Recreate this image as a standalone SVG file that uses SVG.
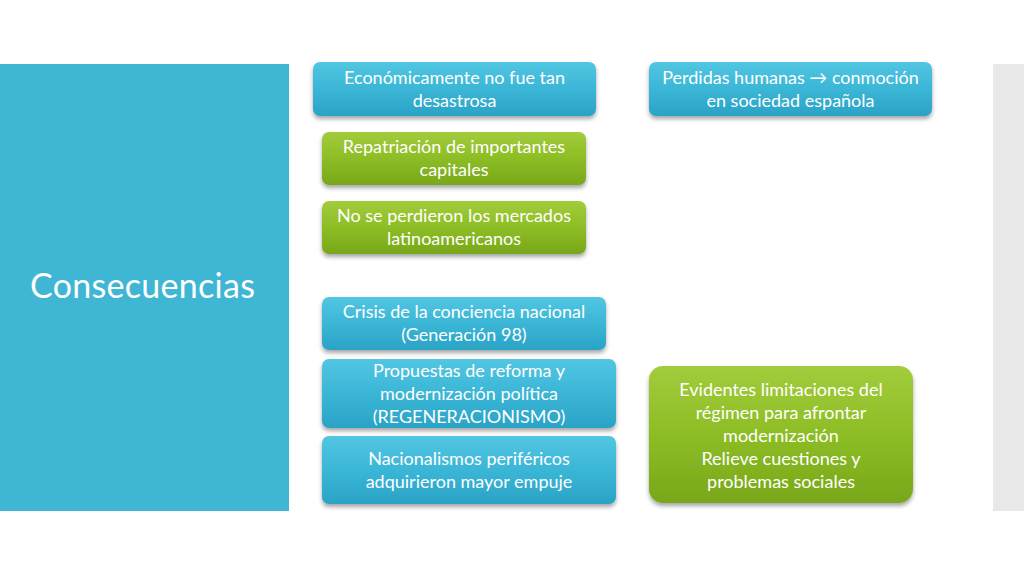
<svg xmlns="http://www.w3.org/2000/svg" width="1024" height="576" viewBox="0 0 1024 576">
<defs>
<linearGradient id="gc" x1="0" y1="0" x2="0" y2="1">
<stop offset="0" stop-color="#52c6e2"/>
<stop offset="0.5" stop-color="#3bb6d6"/>
<stop offset="1" stop-color="#2aa3c6"/>
</linearGradient>
<linearGradient id="gg" x1="0" y1="0" x2="0" y2="1">
<stop offset="0" stop-color="#a2cc3c"/>
<stop offset="0.5" stop-color="#8dbd25"/>
<stop offset="1" stop-color="#78a71a"/>
</linearGradient>
<filter id="sh" x="-10%" y="-10%" width="120%" height="140%">
<feDropShadow dx="0" dy="3" stdDeviation="2" flood-color="#000" flood-opacity="0.35"/>
</filter>
</defs>
<style>
.c{fill:url(#gc);filter:url(#sh)}
.g{fill:url(#gg);filter:url(#sh)}
.t{font-family:Lato,"Open Sans","Liberation Sans",sans-serif;font-size:18px;fill:#ffffff;text-anchor:middle}
</style>
<rect width="1024" height="576" fill="#ffffff"/>
<rect x="0" y="64" width="289" height="447" fill="#3fb6d3"/>
<rect x="993" y="64" width="31" height="447" fill="#e8e8e8"/>
<text x="30" y="298" font-family="Lato,'Open Sans','Liberation Sans',sans-serif" font-size="34" fill="#ffffff" textLength="225">Consecuencias</text>
<g id="connectors"/>
<g id="n1"><rect class="c" x="313" y="62" width="283" height="54" rx="7"/>
<text class="t" x="454.5" y="84">Económicamente no fue tan</text>
<text class="t" x="454.5" y="107">desastrosa</text></g>
<g id="n2"><rect class="g" x="322" y="132" width="264" height="53" rx="7"/>
<text class="t" x="454" y="153">Repatriación de importantes</text>
<text class="t" x="454" y="176">capitales</text></g>
<g id="n3"><rect class="g" x="322" y="201" width="264" height="53" rx="7"/>
<text class="t" x="454" y="222">No se perdieron los mercados</text>
<text class="t" x="454" y="245">latinoamericanos</text></g>
<g id="n4"><rect class="c" x="322" y="297" width="284" height="53" rx="7"/>
<text class="t" x="464" y="318">Crisis de la conciencia nacional</text>
<text class="t" x="464" y="341">(Generación 98)</text></g>
<g id="n5"><rect class="c" x="322" y="359" width="294" height="69" rx="7"/>
<text class="t" x="469" y="377">Propuestas de reforma y</text>
<text class="t" x="469" y="400">modernización política</text>
<text class="t" x="469" y="423">(REGENERACIONISMO)</text></g>
<g id="n6"><rect class="c" x="322" y="436" width="294" height="68" rx="7"/>
<text class="t" x="469" y="465">Nacionalismos periféricos</text>
<text class="t" x="469" y="488">adquirieron mayor empuje</text></g>
<g id="n7"><rect class="c" x="649" y="62" width="283" height="54" rx="7"/>
<text class="t" x="790.5" y="84">Perdidas humanas → conmoción</text>
<text class="t" x="790.5" y="107">en sociedad española</text></g>
<g id="n8"><rect class="g" x="649" y="366" width="264" height="137" rx="14"/>
<text class="t" x="781" y="396">Evidentes limitaciones del</text>
<text class="t" x="781" y="419">régimen para afrontar</text>
<text class="t" x="781" y="442">modernización</text>
<text class="t" x="781" y="465">Relieve cuestiones y</text>
<text class="t" x="781" y="488">problemas sociales</text></g>
</svg>
